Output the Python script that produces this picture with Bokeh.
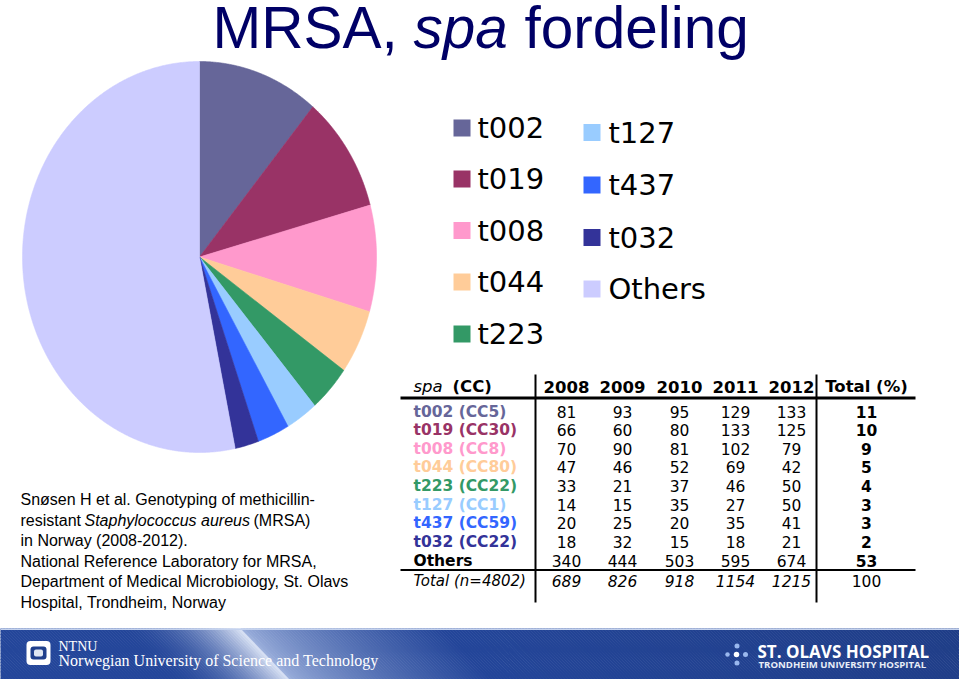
import numpy as np
from bokeh.plotting import figure
from bokeh.models import ColumnDataSource, Range1d
from bokeh.core.properties import value
from bokeh.embed import file_html
from bokeh.resources import INLINE

# ---------------- data ----------------
spa_types = ["t002", "t019", "t008", "t044", "t223", "t127", "t437", "t032", "Others"]
clonal_complex = ["CC5", "CC30", "CC8", "CC80", "CC22", "CC1", "CC59", "CC22", ""]
years = ["2008", "2009", "2010", "2011", "2012"]
n_2008 = [81, 66, 70, 47, 33, 14, 20, 18, 340]
n_2009 = [93, 60, 90, 46, 21, 15, 25, 32, 444]
n_2010 = [95, 80, 81, 52, 37, 35, 20, 15, 503]
n_2011 = [129, 133, 102, 69, 46, 27, 35, 18, 595]
n_2012 = [133, 125, 79, 42, 50, 50, 41, 21, 674]
total_pct = [11, 10, 9, 5, 4, 3, 3, 2, 53]
year_totals = [689, 826, 918, 1154, 1215]
n_isolates = 4802
pct_sum = 100
colors = ["#666699", "#993366", "#FF99CC", "#FFCC99", "#339966",
          "#99CCFF", "#3366FF", "#333399", "#CCCCFF"]

title_parts = ["MRSA,", "spa", "fordeling"]
citation = [
    [("Snøsen H et al. Genotyping of methicillin-", "normal")],
    [("resistant ", "normal"), ("Staphylococcus aureus", "italic"), ("(MRSA)", "normal")],
    [("in Norway (2008-2012).", "normal")],
    [("National Reference Laboratory for MRSA,", "normal")],
    [("Department of Medical Microbiology, St. Olavs", "normal")],
    [("Hospital, Trondheim, Norway", "normal")],
]

# ---------------- figure ----------------
p = figure(width=959, height=679, x_range=Range1d(0, 959), y_range=Range1d(679, 0),
           output_backend="svg", toolbar_location=None, min_border=0,
           x_axis_location=None, y_axis_location=None)
p.grid.visible = False
p.outline_line_color = None
p.background_fill_color = "white"
p.border_fill_color = "white"

ARIAL = value("Liberation Sans")
VERD = value("DejaVu Sans")
SERIF = value("Liberation Serif")
OPEN = value("Open Sans")


def txt(x, y, s, font, size, color="black", style="normal", align="left"):
    p.text(x=[x], y=[y], text=[s], text_font=font, text_font_size=f"{size}px",
           text_color=color, text_font_style=style, text_align=align, text_baseline="middle")


# ---------------- pie (elliptical, clockwise from 12 o'clock) ----------------
per_year = np.array([n_2008, n_2009, n_2010, n_2011, n_2012])
counts = per_year.sum(axis=0)
frac = counts / counts.sum()
ends = np.cumsum(frac) * 2 * np.pi
starts = ends - frac * 2 * np.pi
cx, cy, rx, ry = 199.0, 256.5, 177.0, 195.5
xs, ys = [], []
for a0, a1 in zip(starts, ends):
    t = np.linspace(a0, a1, max(int((a1 - a0) / 0.005), 4))
    xs.append([cx] + list(cx + rx * np.sin(t)) + [cx])
    ys.append([cy] + list(cy - ry * np.cos(t)) + [cy])
p.patches(xs="xs", ys="ys", source=ColumnDataSource(dict(xs=xs, ys=ys, c=colors)),
          fill_color="c", line_color="c", line_width=0.6)

# ---------------- title ----------------
TITLE_COL = "#000066"
title_x = [212, 413, 524]
title_style = ["normal", "italic", "normal"]
for tx, part, st in zip(title_x, title_parts, title_style):
    txt(tx, 27, part, ARIAL, 58.5, TITLE_COL, st)

# ---------------- legend ----------------
leg_cols = [(0, 5, 461.5, 477, [127.5, 178.5, 230, 281.5, 333.5]),
            (5, 9, 591.5, 608, [132, 184.5, 237, 288.5])]
for i0, i1, sqx, lx, yc in leg_cols:
    idx = list(range(i0, i1))
    p.rect(x=[sqx] * len(idx), y=yc, width=17, height=17,
           fill_color=[colors[i] for i in idx], line_color=None)
    p.text(x=[lx] * len(idx), y=yc, text=[spa_types[i] for i in idx],
           text_font=VERD, text_font_size="29px", text_color="black",
           text_baseline="middle", text_align="left")

# ---------------- table ----------------
TF = 15.5
HF = 16.5
label_x = 413
col_x = [566, 622, 679, 735, 791]
tot_x = 866
hdr_y = 386
row_y = [411 + 18.65 * i for i in range(len(spa_types))]
tot_y = 580

txt(label_x, hdr_y, "spa", VERD, HF, style="italic")
txt(label_x + 39, hdr_y, "(CC)", VERD, HF, style="bold")
for x, yr in zip(col_x, years):
    txt(x, hdr_y, yr, VERD, HF, style="bold", align="center")
txt(tot_x, hdr_y, "Total (%)", VERD, HF, style="bold", align="center")

labels = [f"{t} ({c})" if c else t for t, c in zip(spa_types, clonal_complex)]
lab_cols = [c if cc else "black" for c, cc in zip(colors, clonal_complex)]
p.text(x=[label_x] * len(labels), y=row_y, text=labels, text_color=lab_cols,
       text_font=VERD, text_font_size=f"{TF}px", text_font_style="bold",
       text_baseline="middle", text_align="left")
for j, x in enumerate(col_x):
    p.text(x=[x] * len(labels), y=row_y, text=[str(v) for v in per_year[j]],
           text_font=VERD, text_font_size=f"{TF}px", text_color="black",
           text_baseline="middle", text_align="center")
p.text(x=[tot_x] * len(labels), y=row_y, text=[str(v) for v in total_pct],
       text_font=VERD, text_font_size=f"{TF}px", text_font_style="bold", text_color="black",
       text_baseline="middle", text_align="center")

txt(label_x, tot_y, f"Total (n={n_isolates})", VERD, TF - 0.5, style="italic")
p.text(x=col_x, y=[tot_y] * len(col_x), text=[str(v) for v in year_totals],
       text_font=VERD, text_font_size=f"{TF}px", text_font_style="italic", text_color="black",
       text_baseline="middle", text_align="center")
txt(tot_x, tot_y, str(pct_sum), VERD, TF, align="center")

# table rules
p.segment(x0=[400], y0=[397.5], x1=[915], y1=[397.5], line_color="black", line_width=3)
p.segment(x0=[400], y0=[569.5], x1=[915], y1=[569.5], line_color="black", line_width=2)
p.segment(x0=[535, 816], y0=[374, 374], x1=[535, 816], y1=[602, 602],
          line_color="black", line_width=2)

# ---------------- citation ----------------
cit_x0 = 20
seg_x = {(1, 1): 84, (1, 2): 253}
for li, line in enumerate(citation):
    y = 499 + 20.6 * li
    for si, (s, st) in enumerate(line):
        x = seg_x.get((li, si), cit_x0)
        txt(x, y, s, ARIAL, 16, "black", st)

# ---------------- footer banner ----------------
dark = np.array([0x24, 0x46, 0x9a], dtype=float)
light = np.array([0xe0, 0xe8, 0xf8], dtype=float)
mid = np.array([0x9c, 0xb0, 0xdc], dtype=float)


def fcol(s):
    if s < 110:
        c = dark
    elif s < 240:
        tt = ((s - 110) / 130.0) ** 2.2
        c = dark + (light - dark) * tt
    elif s < 440:
        tt = ((s - 240) / 200.0) ** 0.7
        c = mid + (dark - mid) * tt
    else:
        c = dark * (1 - 0.12 * (s - 440) / 520.0)
    c = np.clip(c, 0, 255).astype(int)
    return "#%02x%02x%02x" % tuple(c)


fx, fy, fc = [], [], []
step = 3
for s in range(-60, 962, step):
    fx.append([s, s + step + 0.6, s + step + 0.6 + 50, s + 50])
    fy.append([628, 628, 680, 680])
    fc.append(fcol(s))
p.patches(xs="xs", ys="ys", source=ColumnDataSource(dict(xs=fx, ys=fy, c=fc)),
          fill_color="c", line_color=None)
p.segment(x0=[0], y0=[628.8], x1=[960], y1=[628.8], line_color="#c4d2ee", line_width=1.6)

# NTNU logo
p.rect(x=[38], y=[652.5], width=24, height=24, fill_color="white", line_color=None,
       border_radius=4)
p.rect(x=[38], y=[652.5], width=16, height=13, fill_color="#1f3f8c", line_color=None,
       border_radius=3)
p.rect(x=[38], y=[652.5], width=9, height=7, fill_color="#dfe6f2", line_color=None,
       border_radius=2)
txt(58, 646, "NTNU", SERIF, 14, "white")
txt(58, 660, "Norwegian University of Science and Technology", SERIF, 16, "white")

# St. Olavs logo
p.scatter(x=[736.5, 727, 736, 745, 736.5], y=[645.5, 654, 654, 654, 662.5],
          size=[5, 4.5, 5.5, 5, 5], marker="circle",
          fill_color=["#9ab8ee", "#9ab8ee", "white", "#9ab8ee", "#9ab8ee"], line_color=None)
txt(757, 651, "ST. OLAVS HOSPITAL", OPEN, 17, "white", "bold")
txt(758, 663.5, "TRONDHEIM UNIVERSITY HOSPITAL", OPEN, 9.6, "#e8eef8", "bold")

open("out.html", "w").write(file_html(p, INLINE))
